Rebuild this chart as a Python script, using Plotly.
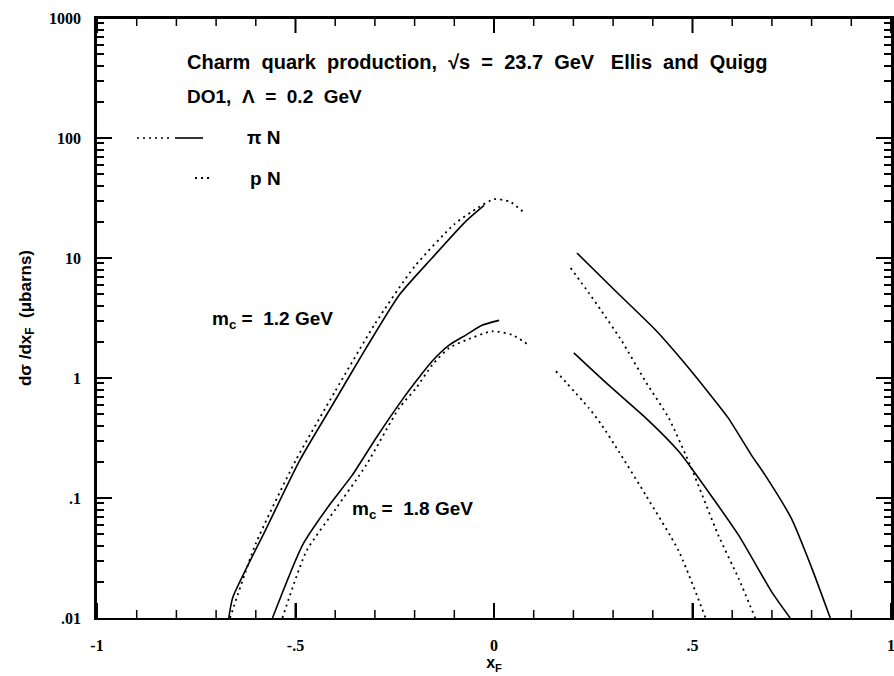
import plotly.graph_objects as go

# ---- data ----
# m_c = 1.2 GeV, pi N
pin12_x = [-0.668, -0.658, -0.573, -0.490, -0.407, -0.322, -0.239, -0.156, -0.070, -0.025,
           None, 0.209, 0.306, 0.407, 0.497, 0.565, 0.590, 0.648, 0.683, 0.749, 0.800, 0.847]
pin12_y = [0.01, 0.0148, 0.0562, 0.204, 0.596, 1.78, 4.90, 10.0, 20.4, 27.5,
           None, 11.0, 5.31, 2.51, 1.14, 0.596, 0.465, 0.229, 0.155, 0.0676, 0.0263, 0.01]
# m_c = 1.2 GeV, p N
pn12_x = [-0.665, -0.60, -0.50, -0.40, -0.30, -0.20, -0.10, -0.04, 0.0, 0.04, 0.075,
          None, 0.193, 0.239, 0.271, 0.322, 0.384, 0.440, 0.497, 0.565, 0.616, 0.658]
pn12_y = [0.01, 0.0417, 0.204, 0.776, 2.82, 8.5, 19.1, 26.3, 30.9, 29.5, 24.0,
          None, 8.26, 5.11, 3.61, 2.03, 0.908, 0.465, 0.178, 0.049, 0.0214, 0.01]
# m_c = 1.8 GeV, pi N
pin18_x = [-0.558, -0.482, -0.415, -0.357, -0.297, -0.231, -0.196, -0.156, -0.113, -0.070, -0.030, 0.013,
           None, 0.201, 0.289, 0.382, 0.465, 0.497, 0.616, 0.699, 0.746]
pin18_y = [0.01, 0.0407, 0.0871, 0.155, 0.316, 0.66, 0.944, 1.38, 1.88, 2.29, 2.75, 3.02,
           None, 1.62, 0.871, 0.465, 0.245, 0.178, 0.049, 0.0166, 0.01]
# m_c = 1.8 GeV, p N
pn18_x = [-0.533, -0.472, -0.397, -0.322, -0.239, -0.196, -0.156, -0.113, -0.070, -0.005, 0.045, 0.088,
          None, 0.156, 0.239, 0.271, 0.314, 0.382, 0.465, 0.533]
pn18_y = [0.01, 0.0363, 0.0826, 0.188, 0.562, 0.826, 1.28, 1.78, 2.07, 2.45, 2.29, 1.88,
          None, 1.14, 0.562, 0.407, 0.245, 0.106, 0.0363, 0.01]

# x tick positions and tick label aliases (as printed on the figure)
x_major = [-1, -0.5, 0, 0.5, 1]
x_minor = [i / 10 for i in range(-9, 10) if i % 5 != 0]
x_label_alias = {"\u22121": "-1", "-1": "-1", "\u22120.5": "-.5", "-0.5": "-.5", "0.5": ".5"}
y_label_alias = {"0.01": ".01", "0.1": ".1"}

SANS = "Liberation Sans"
SERIF = "Liberation Serif"
NB = "\u00a0"

fig = go.Figure()
solid = dict(color="black", width=1.6, shape="spline", smoothing=0.6)
dotted = dict(color="black", width=1.8, dash="2px,4px", shape="spline", smoothing=0.6)
fig.add_trace(go.Scatter(x=pin12_x, y=pin12_y, mode="lines", line=solid, connectgaps=False, showlegend=False))
fig.add_trace(go.Scatter(x=pn12_x, y=pn12_y, mode="lines", line=dotted, connectgaps=False, showlegend=False))
fig.add_trace(go.Scatter(x=pin18_x, y=pin18_y, mode="lines", line=solid, connectgaps=False, showlegend=False))
fig.add_trace(go.Scatter(x=pn18_x, y=pn18_y, mode="lines", line=dotted, connectgaps=False, showlegend=False))

tickfont = dict(family=SERIF, size=16, color="black", weight="bold")
PLOT_H = 600.0

fig.update_layout(
    template="none",
    width=894, height=676,
    margin=dict(l=97, r=3, t=18, b=58),
    paper_bgcolor="white", plot_bgcolor="white",
    showlegend=False,
    xaxis=dict(
        type="linear", range=[-1, 1], tickmode="linear", tick0=-1, dtick=0.5, labelalias=x_label_alias,
        showgrid=False, zeroline=False,
        showline=True, linecolor="black", linewidth=2, mirror=True,
        ticks="inside", ticklen=15, tickwidth=2, tickcolor="black",
        tickfont=tickfont, ticklabelstandoff=12, ticklabeloverflow="allow",
        title=dict(text="<b>x<sub>F</sub></b>", font=dict(family=SANS, size=16, color="black"), standoff=2),
    ),
    yaxis=dict(
        type="log", range=[-2, 3], tickmode="linear", tick0=0, dtick=1, labelalias=y_label_alias,
        showgrid=False, zeroline=False,
        showline=True, linecolor="black", linewidth=2.5, mirror="ticks",
        ticks="inside", ticklen=15, tickwidth=2, tickcolor="black",
        minor=dict(dtick="D1", ticks="inside", ticklen=7, tickwidth=1.5,
                   tickcolor="black", showgrid=False),
        tickfont=tickfont, ticklabelstandoff=10,
        title=dict(text="<b>d\u03c3 /dx<sub>F</sub>" + NB * 2 + "(\u03bcbarns)</b>",
                   font=dict(family=SANS, size=17, color="black"), standoff=14),
    ),
)

# frame top edge and x-axis tick marks (bottom and top, pointing inward), on the x data scale
fig.add_shape(type="line", xref="x domain", yref="y domain", x0=0, x1=1, y0=1, y1=1,
              line=dict(color="black", width=2))
for vals, length, width in ((x_major, 15, 2), (x_minor, 8, 1.5)):
    frac = length / PLOT_H
    for v in vals:
        fig.add_shape(type="line", xref="x", yref="y domain", x0=v, x1=v, y0=0, y1=frac,
                      line=dict(color="black", width=width))
        fig.add_shape(type="line", xref="x", yref="y domain", x0=v, x1=v, y0=1 - frac, y1=1,
                      line=dict(color="black", width=width))

def px2paper(px, py):
    return (px - 97) / 794.0, (618 - py) / 600.0

def note(text, px, py, size=19):
    xp, yp = px2paper(px, py)
    fig.add_annotation(x=xp, y=yp, xref="paper", yref="paper", text=text,
                       showarrow=False, xanchor="left", yanchor="middle",
                       font=dict(family=SANS, size=size, color="black"))

S2 = NB * 2
note("<b>Charm" + S2 + "quark" + S2 + "production," + S2 + "\u221as" + S2 + "=" + S2 + "23.7" + S2 + "GeV"
     + NB * 3 + "Ellis" + S2 + "and" + S2 + "Quigg</b>", 185, 62, size=20)
note("<b>DO1," + S2 + "\u039b" + S2 + "=" + S2 + "0.2" + S2 + "GeV</b>", 185, 96)
note("<b>\u03c0" + NB + "N</b>", 245, 138)
note("<b>p" + NB + "N</b>", 248, 178)
note("<b>m<sub>c</sub>" + NB + "=" + S2 + "1.2" + NB + "GeV</b>", 210, 320)
note("<b>m<sub>c</sub>" + NB + "=" + S2 + "1.8" + NB + "GeV</b>", 350, 510)

# legend line samples (decorations in paper coordinates)
def seg(px0, px1, py, dash, width):
    x0, y0 = px2paper(px0, py)
    x1, _ = px2paper(px1, py)
    fig.add_shape(type="line", xref="paper", yref="paper", x0=x0, x1=x1, y0=y0, y1=y0,
                  line=dict(color="black", width=width, dash=dash))

seg(137, 172, 138, "2px,4px", 1.6)
seg(175, 203, 138, "solid", 1.6)
seg(195, 212, 178, "2px,4px", 1.8)

fig.write_html("out.html", config={"displayModeBar": False},
               post_script="document.body.style.margin='0';")
